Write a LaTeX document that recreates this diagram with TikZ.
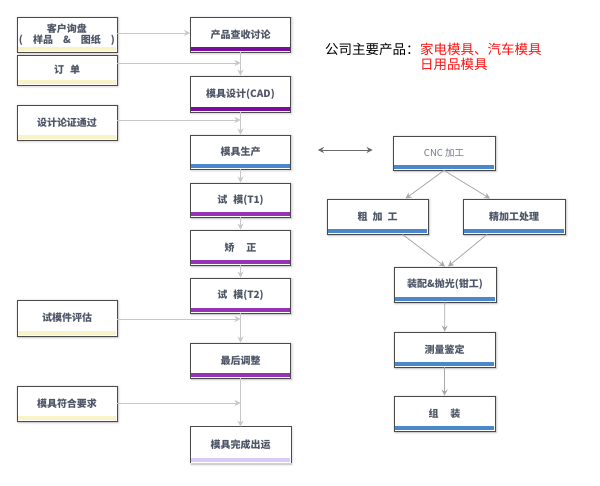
\documentclass[tikz,border=0pt]{standalone}
\usepackage{fontspec}
\setmainfont{Noto Sans CJK SC}
\usetikzlibrary{arrows.meta,shadows.blur}
\definecolor{boxline}{HTML}{4A4A4A}
\definecolor{txt}{HTML}{4D5566}
\definecolor{lgray}{HTML}{C8C8C8}
\definecolor{mgray}{HTML}{A8A8A8}
\definecolor{dgray}{HTML}{6A6A6A}
\definecolor{deeppurple}{HTML}{7A0C9E}
\definecolor{midpurple}{HTML}{9832B4}
\definecolor{barblue}{HTML}{4A88CC}
\definecolor{baryellow}{HTML}{FBF3C8}
\definecolor{barlav}{HTML}{D8CCF4}
\definecolor{redtxt}{HTML}{FF1010}
\newcommand\boxbar[2]{\fill[#2] ([xshift=1pt,yshift=1pt]#1.south west) rectangle ([xshift=-1pt,yshift=5pt]#1.south east);}
\begin{document}
\begin{tikzpicture}[x=1pt,y=-1pt,
  box/.style={draw=boxline, line width=0.9pt, fill=white, minimum width=100pt, minimum height=35pt,
    inner sep=0pt, font=\fontsize{10}{12}\selectfont\bfseries, text=txt,
    blur shadow={shadow xshift=1pt, shadow yshift=-1pt, shadow blur radius=2.5pt, shadow opacity=30}},
  conn/.style={draw=lgray, line width=0.8pt, -{Stealth[length=6pt,width=6pt]}},
  rconn/.style={draw=mgray, line width=0.8pt, -{Stealth[length=6pt,width=6pt]}},
  dconn/.style={draw=dgray, line width=0.9pt, {Stealth[length=6pt,width=6pt]}-{Stealth[length=6pt,width=6pt]}}
]
\useasboundingbox (0,0) rectangle (600,486);
% left column
\node[box, align=center] (L1) at (67,34.5) {\makebox[96pt]{客户询盘}\\[-1pt]\makebox[96pt]{(\hfill 样品\hfill\&\hfill 图纸\hfill)}};
\node[box, minimum height=30pt] (L2) at (67,70) {订\hspace{0.6em}单};
\node[box] (L3) at (67,122.5) {设计论证通过};
\node[box, minimum height=36pt] (L4) at (67,318) {试模件评估};
\node[box] (L5) at (67,403.5) {模具符合要求};
\foreach \n in {L1,L2,L3,L4,L5} {\boxbar{\n}{baryellow}}
% middle column
\node[box] (M1) at (240.5,34.5) {产品查收讨论};
\node[box, minimum height=36pt] (M2) at (240.5,94) {模具设计(CAD)};
\node[box, minimum height=34pt] (M3) at (240.5,152) {模具生产};
\node[box, minimum height=34pt] (M4) at (240.5,200) {试\hspace{0.6em}模(T1)};
\node[box] (M5) at (240.5,247.5) {矫\hspace{1.2em}正};
\node[box] (M6) at (240.5,295.5) {试\hspace{0.6em}模(T2)};
\node[box] (M7) at (240.5,360.5) {最后调整};
\node[box, minimum height=36pt, draw=none] (M8) at (240.5,445) {模具完成出运};
\draw[boxline, line width=0.9pt] (M8.south west) -- (M8.north west) -- (M8.north east) -- (M8.south east);
\boxbar{M1}{deeppurple}
\boxbar{M2}{deeppurple}
\boxbar{M3}{barblue}
\foreach \n in {M4,M5,M6,M7} {\boxbar{\n}{midpurple}}
\boxbar{M8}{barlav}
% right column
\node[box, minimum width=102pt, minimum height=34pt, font=\fontsize{9.5}{12}\selectfont, text=txt!80] (C1) at (444,153) {CNC 加工};
\node[box, minimum width=101pt] (C2) at (377.5,216.5) {粗\hspace{0.5em}加\hspace{0.5em}工};
\node[box, minimum width=102pt] (C3) at (514,216.5) {精加工处理};
\node[box, minimum width=102pt] (C4) at (445,284.5) {装配\&抛光(钳工)};
\node[box, minimum width=101pt] (C5) at (444.5,349.5) {测量鉴定};
\node[box, minimum width=101pt] (C6) at (444.5,413.5) {组\hspace{1.2em}装};
\foreach \n in {C1,C2,C3,C4,C5,C6} {\boxbar{\n}{barblue}}
% top text
\node[anchor=north west, inner sep=0pt, font=\fontsize{13.5}{15}\selectfont, align=left] (T1) at (325,43) {公司主要产品：};
\node[anchor=north west, inner sep=0pt, font=\fontsize{13.5}{15}\selectfont, text=redtxt, align=left] (T2) at (T1.north east) {家电模具、汽车模具\\日用品模具};
% connectors left to middle
\draw[conn] (L1.east |- 0,33) -- (M1.west |- 0,33);
\draw[conn] (L2.east |- 0,63) -- (M1.south |- 0,63);
\draw[conn] (L3.east |- 0,120) -- (M2.south |- 0,120);
\draw[conn] (L4.east |- 0,319) -- (M6.south |- 0,319);
\draw[conn] (L5.east |- 0,403) -- (M7.south |- 0,403);
% middle vertical
\draw[conn] (M1) -- (M2);
\draw[conn] (M2) -- (M3);
\draw[conn] (M3) -- (M4);
\draw[conn] (M4) -- (M5);
\draw[conn] (M5) -- (M6);
\draw[conn] (M6) -- (M7);
\draw[conn] (M7) -- (M8);
% double arrow
\draw[dconn] ([xshift=27pt,yshift=2pt]M3.east) -- ([xshift=-20pt,yshift=3pt]C1.west);
% right column
\draw[rconn] (C1.south) -- ([xshift=28pt]C2.north);
\draw[rconn] (C1.south) -- ([xshift=-24pt]C3.north);
\draw[rconn] ([xshift=25pt]C2.south) -- (C4.north);
\draw[rconn] ([xshift=-27pt]C3.south) -- ([xshift=3pt]C4.north);
\draw[rconn] (C4) -- (C5);
\draw[rconn] (C5) -- (C6);
\end{tikzpicture}
\end{document}
